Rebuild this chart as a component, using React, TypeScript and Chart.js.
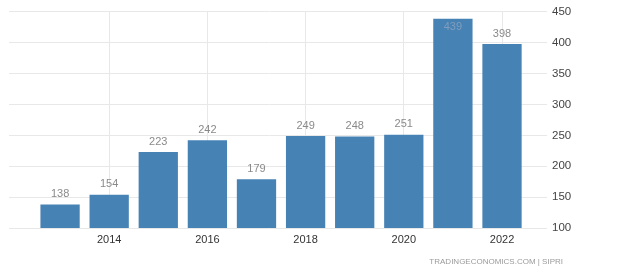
import React, { useEffect, useRef } from "react";
import { Chart, registerables } from "chart.js";

Chart.register(...registerables);

const years = [2013, 2014, 2015, 2016, 2017, 2018, 2019, 2020, 2021, 2022];
const values = [138, 154, 223, 242, 179, 249, 248, 251, 439, 398];
const xTickYears = [2014, 2016, 2018, 2020, 2022];
const yTicks = [100, 150, 200, 250, 300, 350, 400, 450];
const sourceText = "TRADINGECONOMICS.COM | SIPRI";

const FONT = "'Liberation Sans Narrow', 'Liberation Sans', Arial, sans-serif";

const labelPlugin = {
  id: "valueLabels",
  afterDatasetsDraw(chart: any) {
    const ctx = chart.ctx;
    const meta = chart.getDatasetMeta(0);
    ctx.save();
    ctx.font = `11px ${FONT}`;
    ctx.textAlign = "center";
    meta.data.forEach((bar: any, i: number) => {
      const v = values[i];
      let y = bar.y - 5;
      ctx.textBaseline = "bottom";
      ctx.fillStyle = "#8a8a8a";
      if (y - 10 < chart.chartArea.top) {
        ctx.textBaseline = "top";
        y = bar.y + 3;
        ctx.fillStyle = "#7f9dbd";
      }
      ctx.fillText(String(v), bar.x, y);
    });
    ctx.restore();
  },
  afterDraw(chart: any) {
    const ctx = chart.ctx;
    ctx.save();
    ctx.font = `8px ${FONT}`;
    ctx.fillStyle = "#9a9a9a";
    ctx.textAlign = "right";
    ctx.textBaseline = "middle";
    ctx.fillText(sourceText, 563, 262);
    ctx.restore();
  },
};

export default function App() {
  const ref = useRef<HTMLCanvasElement>(null);
  useEffect(() => {
    if (!ref.current) return;
    const chart = new Chart(ref.current, {
      type: "bar",
      data: {
        datasets: [
          {
            data: years.map((y, i) => ({ x: y, y: values[i] })),
            backgroundColor: "#4682b4",
            borderWidth: 0,
            barPercentage: 0.8,
            categoryPercentage: 1,
          },
        ],
      },
      options: {
        animation: false,
        responsive: false,
        maintainAspectRatio: false,
        layout: { padding: { left: 9, top: 7, right: 0, bottom: 0 } },
        plugins: { legend: { display: false }, tooltip: { enabled: false } },
        scales: {
          x: {
            type: "linear",
            min: 2011.96,
            max: 2022.57,
            offset: false,
            grid: { color: "#e8e8e8", drawTicks: false, lineWidth: 1, offset: false },
            border: { display: false },
            afterBuildTicks(scale: any) {
              scale.ticks = xTickYears.map((v) => ({ value: v }));
            },
            afterFit(scale: any) {
              scale.height = 49;
            },
            ticks: {
              padding: 5,
              color: "#333",
              font: { family: FONT, size: 11 },
              callback: (v: any) => String(v),
              maxRotation: 0,
              autoSkip: false,
            },
          },
          y: {
            position: "right",
            min: 100,
            max: 450,
            afterBuildTicks(scale: any) {
              scale.ticks = yTicks.map((v) => ({ value: v }));
            },
            afterFit(scale: any) {
              scale.width = 90;
            },
            grid: { color: "#e8e8e8", tickLength: 17, lineWidth: 1 },
            border: { display: false },
            ticks: {
              padding: 5,
              color: "#444",
              font: { family: FONT, size: 11.5 },
              callback: (v: any) => String(v),
            },
          },
        },
      },
      plugins: [labelPlugin],
    });
    return () => chart.destroy();
  }, []);
  return (
    <div style={{ position: "fixed", left: 0, top: 0, width: 620, height: 277, background: "#fff" }}>
      <canvas ref={ref} width={620} height={277} style={{ width: 620, height: 277 }} />
    </div>
  );
}
